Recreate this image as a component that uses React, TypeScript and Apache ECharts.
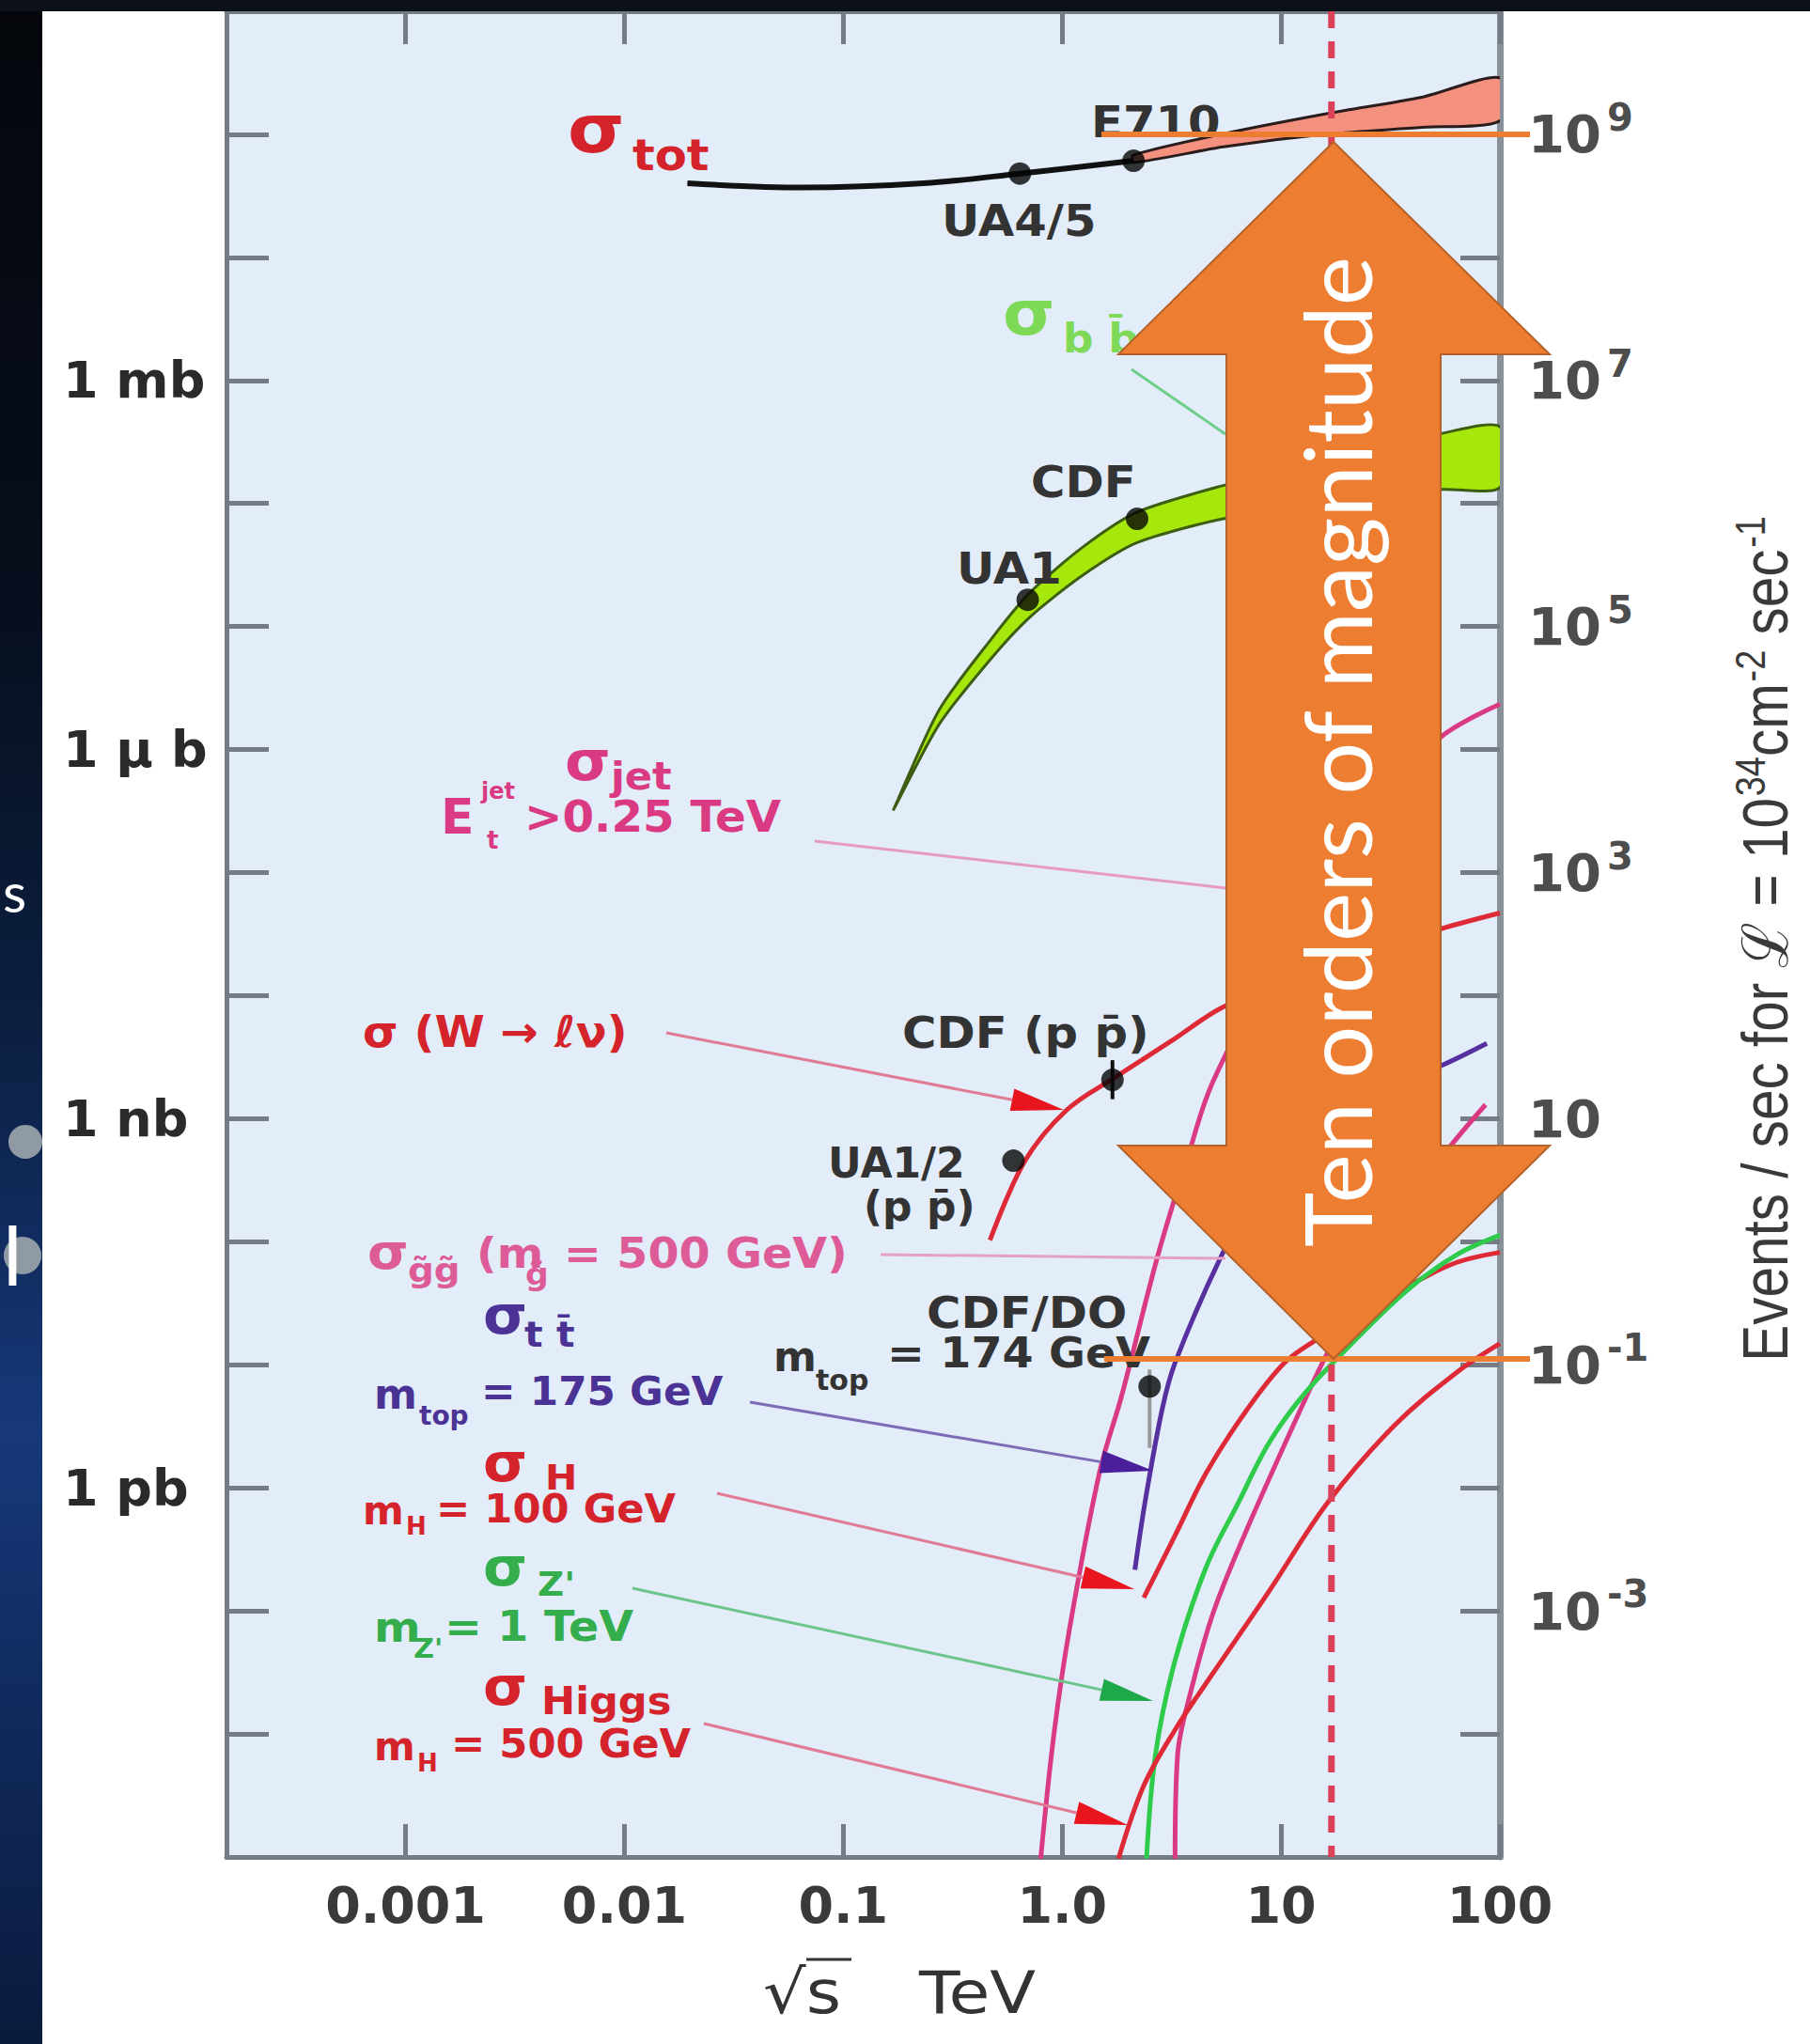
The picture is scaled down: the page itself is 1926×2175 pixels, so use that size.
import React, { useEffect, useRef } from 'react';
import * as echarts from 'echarts';

// ---------------- data: √s in TeV, σ in barn ----------------
const X_MIN = 1.52e-4;
const X_MAX = 100;
const Y_MIN = 1e-15;
const Y_MAX = 1;
const RATE_PER_BARN = 1e10; // events / s per barn at L = 1e34 cm^-2 s^-1

const X_TICKS = [0.001, 0.01, 0.1, 1, 10, 100];
const X_TICK_LABELS = ['0.001', '0.01', '0.1', '1.0', '10', '100'];
const Y_LABEL_VALUES = [1e-3, 1e-6, 1e-9, 1e-12];
const Y_LABELS = ['1 mb', '1 μ b', '1 nb', '1 pb'];
const RATE_LABEL_VALUES = [1e9, 1e7, 1e5, 1e3, 1e1, 1e-1, 1e-3];

// σ_tot
const TOT_X = [0.0194, 0.0657, 0.232, 0.641, 2.12];
const TOT_Y = [0.04, 0.037, 0.04, 0.048, 0.061];
const TOT_BAND_X = [2.12, 5.45, 16.8, 43.9, 100];
const TOT_BAND_HI = [0.068, 0.101, 0.149, 0.2, 0.288];
const TOT_BAND_LO = [0.059, 0.079, 0.101, 0.114, 0.129];

// σ_bb̄ band
const BB_X = [0.169, 0.274, 0.474, 0.715, 1.239, 2.2, 5.45, 16.8, 53.9, 100];
const BB_HI = [3.2e-7, 2.1e-6, 7.9e-6, 1.9e-5, 4.4e-5, 8.5e-5, 1.4e-4, 2.3e-4, 3.7e-4, 4.2e-4];
const BB_LO = [3.2e-7, 1.6e-6, 5.5e-6, 1.2e-5, 2.6e-5, 4.8e-5, 7.5e-5, 1.0e-4, 1.3e-4, 1.35e-4];

// σ(W → ℓν)
const W_X = [0.468, 0.677, 1.051, 1.746, 3.24, 5.45, 16.8, 53.9, 100];
const W_Y = [1.03e-10, 4.56e-10, 1.18e-9, 2.17e-9, 4.42e-9, 8.1e-9, 1.86e-8, 3.5e-8, 4.7e-8];

// σ_jet (E_t > 0.25 TeV)
const JET_X = [0.798, 0.916, 1.08, 1.481, 1.87, 2.746, 3.713, 4.886, 9.7, 19.3, 33.4, 53.9, 100];
const JET_Y = [9.7e-16, 9.8e-15, 7.1e-14, 1.33e-12, 5.6e-12, 7.9e-11, 4.6e-10, 2.0e-9, 2.0e-8, 1.25e-7, 4.8e-7, 1.27e-6, 2.34e-6];

// σ_g̃g̃ (m = 500 GeV)
const GG_X = [3.28, 3.37, 3.87, 4.886, 6.79, 12.25, 15.47, 25.4, 38.3, 53.9, 86.0];
const GG_Y = [9.7e-16, 6.8e-15, 2.2e-14, 9.5e-14, 4.1e-13, 4.3e-12, 1.04e-11, 5.7e-11, 1.94e-10, 4.8e-10, 1.3e-9];

// σ_tt̄ (m_top = 175 GeV)
const TT_X = [2.15, 2.39, 2.86, 3.28, 5.38, 7.9, 12.8, 25.4, 53.9, 87.2];
const TT_Y = [2.16e-13, 7.6e-13, 4.3e-12, 1.04e-11, 7.9e-11, 2.66e-10, 7.1e-10, 1.55e-9, 2.7e-9, 4.1e-9];

// σ_H (m_H = 100 GeV)
const H100_X = [2.36, 3.28, 4.56, 6.98, 10.39, 14.85, 23.7, 41.0, 63.6, 100];
const H100_Y = [1.28e-13, 4.1e-13, 1.33e-12, 4.3e-12, 1.04e-11, 1.64e-11, 2.75e-11, 4.7e-11, 6.8e-11, 8.2e-11];

// σ_Z' (m_Z' = 1 TeV)
const ZP_X = [2.43, 2.67, 3.28, 4.56, 6.34, 8.69, 11.92, 17.27, 37.2, 63.6, 100];
const ZP_Y = [9.7e-16, 6.8e-15, 3.95e-14, 2.29e-13, 7.4e-13, 2.22e-12, 4.98e-12, 1.04e-11, 3.96e-11, 7.85e-11, 1.13e-10];

// σ_Higgs (m_H = 500 GeV)
const HIG_X = [1.809, 2.36, 3.28, 4.56, 8.81, 16.35, 32.9, 63.6, 100];
const HIG_Y = [9.7e-16, 3.8e-15, 1.08e-14, 2.6e-14, 1.44e-13, 7.6e-13, 3.2e-12, 8.7e-12, 1.49e-11];

// LHC energy marker
const LHC_X = 17.0;

// measurements
const PT_NAMES = ['UA4/5', 'E710', 'UA1', 'CDF', 'UA1/2', 'CDF (p p̄)', 'CDF/D0'];
const PT_X = [0.641, 2.12, 0.696, 2.2, 0.599, 1.698, 2.51];
const PT_Y = [0.048, 0.061, 1.65e-5, 7.5e-5, 4.56e-10, 2.07e-9, 6.67e-12];
const ERR_W_X = 1.698;
const ERR_W_Y = [1.44e-9, 2.99e-9];
const ERR_TT_X = 2.51;
const ERR_TT_Y = [2.11e-12, 9.16e-12];

// ---------------- helpers ----------------
const L = (v: number) => Math.log10(v);
const pts = (xs: number[], ys: number[]) => xs.map((x, i) => [L(x), L(ys[i])]);

const FONT = "'DejaVu Sans', sans-serif";
const NARROW = "'Liberation Sans Narrow', 'Liberation Sans', sans-serif";
const AX = '#767c86';
const RED = '#D5232C';
const MAG = '#D93A82';
const PINK = '#DD5B97';
const GRN_B = '#7ED957';
const GRN = '#34AE4C';
const PUR = '#4B3396';
const BLK = '#333333';

const txt = (x: number, y: number, text: string, size: number, fill: string, o: any = {}) => ({
  type: 'text',
  x,
  y,
  z: o.z ?? 50,
  silent: true,
  rotation: o.rot ?? 0,
  scaleX: o.sx ?? 1.08,
  style: {
    text,
    fontSize: size,
    fontFamily: o.ff ?? FONT,
    fontWeight: o.fw ?? 'bold',
    fill,
    align: o.align ?? 'left',
    verticalAlign: o.va ?? 'middle',
    textAlign: o.align ?? 'left',
    textVerticalAlign: o.va ?? 'middle',
    rich: o.rich,
  },
});

const seg = (x1: number, y1: number, x2: number, y2: number, stroke: string, w: number, z = 40) => ({
  type: 'line',
  z,
  silent: true,
  shape: { x1, y1, x2, y2 },
  style: { stroke, lineWidth: w },
});

const leader = (sx: number, sy: number, tx: number, ty: number, lineColor: string, headColor: string) => {
  const dx = tx - sx;
  const dy = ty - sy;
  const d = Math.hypot(dx, dy);
  const ux = dx / d;
  const uy = dy / d;
  const len = 56;
  const hw = 12;
  const bx = tx - ux * len;
  const by = ty - uy * len;
  return [
    seg(sx, sy, bx, by, lineColor, 3),
    {
      type: 'polygon',
      z: 41,
      silent: true,
      shape: { points: [[tx, ty], [bx - uy * hw, by + ux * hw], [bx + uy * hw, by - ux * hw]] },
      style: { fill: headColor },
    },
  ];
};

const lineSeries = (name: string, xs: number[], ys: number[], color: string, width = 5, z = 3) => ({
  name,
  type: 'line',
  data: pts(xs, ys),
  showSymbol: false,
  symbol: 'none',
  smooth: 0.35,
  clip: true,
  silent: true,
  z,
  lineStyle: { color, width },
});

const bandSeries = (name: string, xs: number[], hi: number[], lo: number[], fill: string, stroke: string) => ({
  name,
  type: 'custom',
  clip: true,
  silent: true,
  z: 2,
  data: [[0, -5]],
  renderItem: (_p: any, api: any) => {
    const poly: number[][] = [];
    xs.forEach((x, i) => poly.push(api.coord([L(x), L(hi[i])])));
    for (let i = xs.length - 1; i >= 0; i--) poly.push(api.coord([L(xs[i]), L(lo[i])]));
    return {
      type: 'polygon',
      shape: { points: poly, smooth: 0.25 },
      style: { fill, stroke, lineWidth: 3 },
    };
  },
});

const findLabel = (v: number, vals: number[], labels: string[]) => {
  const i = vals.findIndex((t) => Math.abs(L(t) - v) < 1e-6);
  return i >= 0 ? labels[i] : '';
};

export default function App() {
  const ref = useRef<HTMLDivElement>(null);

  useEffect(() => {
    if (!ref.current) return;
    const chart = echarts.init(ref.current, undefined, { renderer: 'svg' });

    const xTickVals = X_TICKS.map(L);
    const axisX = (position: 'bottom' | 'top', showLabel: boolean) => ({
      type: 'value',
      position,
      min: L(X_MIN),
      max: L(X_MAX),
      axisLine: { show: true, onZero: false, lineStyle: { color: AX, width: 5 } },
      axisTick: { show: true, inside: true, length: 35, customValues: xTickVals, lineStyle: { color: AX, width: 5 } },
      axisLabel: {
        show: showLabel,
        customValues: xTickVals,
        formatter: (v: number) => findLabel(v, X_TICKS, X_TICK_LABELS),
        margin: 24,
        fontSize: 54,
        fontFamily: FONT,
        fontWeight: 'bold',
        color: '#3a3a3a',
      },
      splitLine: { show: false },
    });

    const rateLabels = RATE_LABEL_VALUES.map((r) => {
      const e = Math.round(L(r));
      return e === 1 ? '{b|10}' : `{b|10}{s|${e}}`;
    });

    const option: any = {
      animation: false,
      backgroundColor: '#ffffff',
      grid: {
        left: 241,
        top: 12,
        width: 1355,
        height: 1964,
        show: true,
        backgroundColor: '#E2EDF9',
        borderWidth: 0,
      },
      xAxis: [axisX('bottom', true), axisX('top', false)],
      yAxis: [
        {
          type: 'value',
          position: 'left',
          min: L(Y_MIN),
          max: L(Y_MAX),
          interval: 1,
          axisLine: { show: true, onZero: false, lineStyle: { color: AX, width: 5 } },
          axisTick: { show: true, inside: true, length: 45, lineStyle: { color: AX, width: 5 } },
          axisLabel: {
            customValues: Y_LABEL_VALUES.map(L),
            formatter: (v: number) => findLabel(v, Y_LABEL_VALUES, Y_LABELS),
            margin: 174,
            align: 'left',
            fontSize: 54,
            fontFamily: FONT,
            fontWeight: 'bold',
            color: '#2a2a2a',
          },
          splitLine: { show: false },
        },
        {
          type: 'value',
          position: 'right',
          min: L(Y_MIN * RATE_PER_BARN),
          max: L(Y_MAX * RATE_PER_BARN),
          interval: 1,
          axisLine: { show: true, onZero: false, lineStyle: { color: '#8a9098', width: 7 } },
          axisTick: { show: true, inside: true, length: 42, lineStyle: { color: AX, width: 5 } },
          axisLabel: {
            customValues: RATE_LABEL_VALUES.map(L),
            formatter: (v: number) => findLabel(v, RATE_LABEL_VALUES, rateLabels),
            margin: 30,
            align: 'left',
            rich: {
              b: { fontSize: 56, fontFamily: FONT, fontWeight: 'bold', color: '#4d4d4d' },
              s: { fontSize: 40, fontFamily: FONT, fontWeight: 'bold', color: '#4d4d4d', padding: [0, 0, 36, 6] },
            },
          },
          splitLine: { show: false },
        },
      ],
      series: [
        bandSeries('σtot band', TOT_BAND_X, TOT_BAND_HI, TOT_BAND_LO, '#F3907E', '#2a1c1c'),
        lineSeries('σtot', TOT_X, TOT_Y, '#111111', 6),
        bandSeries('σbb', BB_X, BB_HI, BB_LO, '#A6E80C', '#3d5e12'),
        lineSeries('σjet', JET_X, JET_Y, MAG),
        lineSeries('σgg', GG_X, GG_Y, MAG),
        lineSeries('σW', W_X, W_Y, '#DE2A36'),
        lineSeries('σtt', TT_X, TT_Y, '#55309E'),
        lineSeries('σH100', H100_X, H100_Y, '#DE2A36'),
        lineSeries("σZ'", ZP_X, ZP_Y, '#2FCB4A'),
        lineSeries('σHiggs500', HIG_X, HIG_Y, '#DE2A36'),
        {
          name: 'LHC',
          type: 'line',
          data: [[L(LHC_X), L(Y_MAX)], [L(LHC_X), L(Y_MIN)]],
          showSymbol: false,
          symbol: 'none',
          silent: true,
          z: 4,
          lineStyle: { color: '#DB4158', width: 7, type: [18, 14] },
        },
        {
          name: 'err W',
          type: 'line',
          data: ERR_W_Y.map((y) => [L(ERR_W_X), L(y)]),
          showSymbol: false,
          symbol: 'none',
          silent: true,
          z: 5,
          lineStyle: { color: '#111', width: 4 },
        },
        {
          name: 'err tt',
          type: 'line',
          data: ERR_TT_Y.map((y) => [L(ERR_TT_X), L(y)]),
          showSymbol: false,
          symbol: 'none',
          silent: true,
          z: 5,
          lineStyle: { color: '#9a9a9a', width: 4 },
        },
        {
          name: 'data',
          type: 'scatter',
          data: PT_X.map((x, i) => ({ name: PT_NAMES[i], value: [L(x), L(PT_Y[i])] })),
          symbol: 'circle',
          symbolSize: 24,
          silent: true,
          z: 6,
          itemStyle: { color: '#050505' },
        },
      ],
      graphic: {
        elements: [
          // slide background strips
          {
            type: 'rect',
            z: 1,
            silent: true,
            shape: { x: 0, y: 0, width: 45, height: 2175 },
            style: {
              fill: new echarts.graphic.LinearGradient(0, 0, 0, 1, [
                { offset: 0, color: '#04060b' },
                { offset: 0.3, color: '#070f1e' },
                { offset: 0.5, color: '#0b1f40' },
                { offset: 0.7, color: '#16387a' },
                { offset: 0.85, color: '#10295a' },
                { offset: 1, color: '#0a1a3c' },
              ]),
            },
          },
          { type: 'rect', z: 1, silent: true, shape: { x: 0, y: 0, width: 1926, height: 12 }, style: { fill: '#0b1019' } },
          { type: 'circle', z: 2, silent: true, shape: { cx: 27, cy: 1215, r: 18 }, style: { fill: '#8f9aa4' } },
          { type: 'circle', z: 2, silent: true, shape: { cx: 24, cy: 1336, r: 20 }, style: { fill: '#8f9aa4' } },
          { type: 'rect', z: 3, silent: true, shape: { x: 45, y: 1180, width: 20, height: 200 }, style: { fill: '#ffffff' } },
          txt(3, 948, 's', 58, '#ffffff', { fw: 'normal', ff: 'Lato', sx: 1, z: 2 }),
          txt(3, 1334, 'l', 88, '#ffffff', { fw: 'normal', ff: 'Lato', sx: 1, z: 2 }),

          // axis titles
          txt(812, 2120, '√s', 64, '#333', { fw: 'normal', sx: 1.12 }),
          seg(858, 2085, 906, 2085, '#333', 3),
          txt(978, 2121, 'TeV', 62, '#333', { fw: 'normal', sx: 1.15 }),
          txt(1878, 999, '{a|Events / sec for ℒ = 10}{s|34}{a|cm}{s|-2}{a| sec}{s|-1}', 68, '#3a3a3a', {
            align: 'center',
            fw: 'normal',
            ff: NARROW,
            rot: Math.PI / 2,
            sx: 0.86,
            rich: {
              a: { fontSize: 68, lineHeight: 70, fontFamily: NARROW, fill: '#3a3a3a' },
              s: { fontSize: 44, fontFamily: NARROW, fill: '#3a3a3a', padding: [0, 0, 30, 2] },
            },
          }),

          // σ_tot
          txt(604, 137, 'σ', 72, RED),
          txt(673, 165, 'tot', 46, RED),
          txt(1161, 130, 'E710', 46, BLK),
          txt(1002, 235, 'UA4/5', 46, BLK),
          // σ_bb
          txt(1067, 333, 'σ', 66, GRN_B),
          txt(1131, 360, 'b b̄', 42, GRN_B),
          seg(1204, 393, 1304, 462, '#6FCF8A', 3),
          txt(1097, 513, 'CDF', 46, BLK),
          txt(1018, 605, 'UA1', 46, BLK),
          // σ_jet
          txt(601, 810, 'σ', 58, MAG),
          txt(650, 826, 'jet', 40, MAG),
          txt(469, 869, 'E', 52, MAG, { sx: 1 }),
          txt(512, 842, 'jet', 24, MAG, { sx: 1 }),
          txt(518, 894, 't', 26, MAG, { sx: 1 }),
          txt(558, 869, '>0.25 TeV', 46, MAG, { sx: 1.05 }),
          seg(867, 895, 1304, 945, '#E59BC0', 3),
          // W
          txt(386, 1098, 'σ (W → ℓν)', 46, RED, { sx: 1.05 }),
          ...leader(709, 1099, 1132, 1181, '#E07A95', '#E8141E'),
          txt(960, 1099, 'CDF (p p̄)', 46, BLK),
          txt(881, 1237, 'UA1/2', 44, BLK, { sx: 1 }),
          txt(919, 1283, '(p p̄)', 44, BLK, { sx: 1 }),
          // gluino
          txt(391, 1332, 'σ', 52, PINK),
          txt(434, 1352, 'g̃g̃', 36, PINK),
          txt(507, 1334, '(m', 44, PINK),
          txt(559, 1356, 'g̃', 32, PINK),
          txt(600, 1334, '= 500 GeV)', 44, PINK),
          seg(937, 1335, 1304, 1339, '#E5A0C5', 3),
          // top
          txt(514, 1400, 'σ', 56, PUR),
          txt(558, 1420, 't t̄', 38, PUR),
          txt(398, 1483, 'm', 44, PUR, { sx: 1 }),
          txt(446, 1506, 'top', 28, PUR, { sx: 1 }),
          txt(512, 1480, '= 175 GeV', 42, PUR, { sx: 1.04 }),
          ...leader(798, 1492, 1227, 1565, '#7D6BB5', '#4B1E9A'),
          txt(986, 1397, 'CDF/DO', 46, BLK),
          txt(823, 1443, 'm', 44, BLK, { sx: 1 }),
          txt(868, 1468, 'top', 30, BLK, { sx: 1 }),
          txt(944, 1440, '= 174 GeV', 44, BLK),
          // H 100
          txt(514, 1557, 'σ', 56, RED),
          txt(580, 1572, 'H', 38, RED),
          txt(386, 1607, 'm', 42, RED, { sx: 1 }),
          txt(432, 1624, 'H', 26, RED, { sx: 1 }),
          txt(464, 1605, '= 100 GeV', 42, RED, { sx: 1.03 }),
          ...leader(763, 1589, 1207, 1691, '#E07A95', '#E8141E'),
          // Z'
          txt(514, 1668, 'σ', 56, GRN),
          txt(572, 1686, "Z'", 36, GRN),
          txt(398, 1732, 'm', 44, GRN),
          txt(440, 1754, "Z'", 28, GRN),
          txt(473, 1731, '= 1 TeV', 44, GRN),
          ...leader(673, 1690, 1227, 1810, '#6CC488', '#1FA84A'),
          // Higgs 500
          txt(514, 1795, 'σ', 56, RED),
          txt(576, 1810, 'Higgs', 40, RED),
          txt(398, 1858, 'm', 42, RED, { sx: 1 }),
          txt(444, 1876, 'H', 26, RED, { sx: 1 }),
          txt(480, 1855, '= 500 GeV', 42, RED, { sx: 1.03 }),
          ...leader(749, 1834, 1200, 1942, '#E07A95', '#E8141E'),

          // orange overlay
          seg(1172, 143, 1628, 143, '#ED7D31', 6, 100),
          seg(1175, 1446, 1628, 1446, '#ED7D31', 6, 100),
          {
            type: 'polygon',
            z: 101,
            silent: true,
            shape: {
              points: [
                [1419, 151], [1649, 377], [1533, 377], [1533, 1219], [1649, 1219],
                [1419, 1446], [1190, 1219], [1305, 1219], [1305, 377], [1190, 377],
              ],
            },
            style: { fill: '#ED7D31', stroke: '#B4622A', lineWidth: 2 },
          },
          txt(1421, 800, 'Ten orders of magnitude', 99, '#ffffff', {
            align: 'center',
            fw: 'normal',
            ff: 'Lato, sans-serif',
            rot: Math.PI / 2,
            sx: 1,
            z: 102,
          }),
        ],
      },
    };

    chart.setOption(option);
    return () => chart.dispose();
  }, []);

  return (
    <div
      ref={ref}
      style={{ position: 'absolute', left: 0, top: 0, width: 1926, height: 2175 }}
    />
  );
}
